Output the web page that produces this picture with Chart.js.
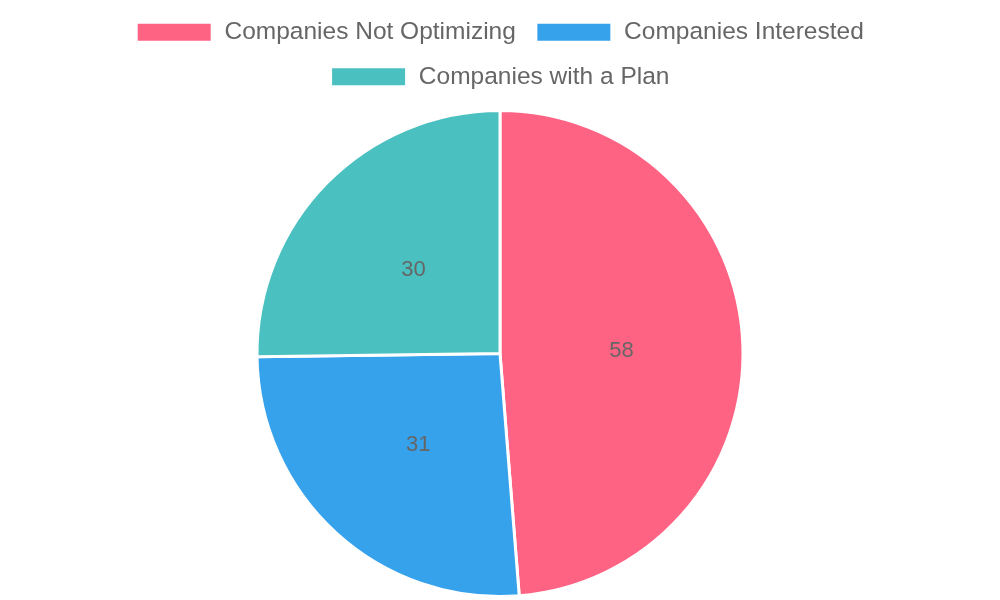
<!DOCTYPE html>
<html>
<head>
<meta charset="utf-8">
<script src="https://cdn.jsdelivr.net/npm/chart.js@4/dist/chart.umd.min.js"></script>
<style>
html,body{margin:0;padding:0;background:#fff;}
#wrap{width:1000px;height:600px;}
</style>
</head>
<body>
<div id="wrap"><canvas id="c" width="1000" height="600"></canvas></div>
<script>
const categories = ["Companies Not Optimizing", "Companies Interested", "Companies with a Plan"];
const values = [58, 31, 30];
const colors = ["#FF6384", "#36A2EB", "#4BC0C0"];

const labelPlugin = {
  id: 'sliceLabels',
  afterDatasetsDraw(chart) {
    const ctx = chart.ctx;
    const meta = chart.getDatasetMeta(0);
    ctx.save();
    ctx.font = '22px "Liberation Sans", Arial, sans-serif';
    ctx.fillStyle = '#666666';
    ctx.textAlign = 'center';
    ctx.textBaseline = 'middle';
    meta.data.forEach((arc, i) => {
      const p = arc.tooltipPosition();
      ctx.fillText(String(chart.data.datasets[0].data[i]), p.x, p.y + 2);
    });
    ctx.restore();
  }
};

const legendMargin = {
  id: 'legendMargin',
  beforeInit(chart) {
    const origFit = chart.legend ? chart.legend.fit : null;
    if (chart.legend && origFit) {
      chart.legend.fit = function () {
        origFit.bind(chart.legend)();
        this.height += 10;
      };
    }
  }
};

new Chart(document.getElementById('c'), {
  type: 'pie',
  data: {
    labels: categories,
    datasets: [{
      data: values,
      backgroundColor: colors,
      borderColor: '#ffffff',
      borderWidth: 3
    }]
  },
  options: {
    responsive: false,
    animation: false,
    layout: { padding: { top: 0, bottom: 2 } },
    plugins: {
      legend: {
        position: 'top',
        labels: {
          font: { family: '"Liberation Sans", Arial, sans-serif', size: 24.5 },
          color: '#666666',
          boxWidth: 76,
          boxHeight: 20,
          padding: 20
        }
      },
      tooltip: { enabled: false }
    }
  },
  plugins: [labelPlugin, legendMargin]
});
</script>
</body>
</html>
